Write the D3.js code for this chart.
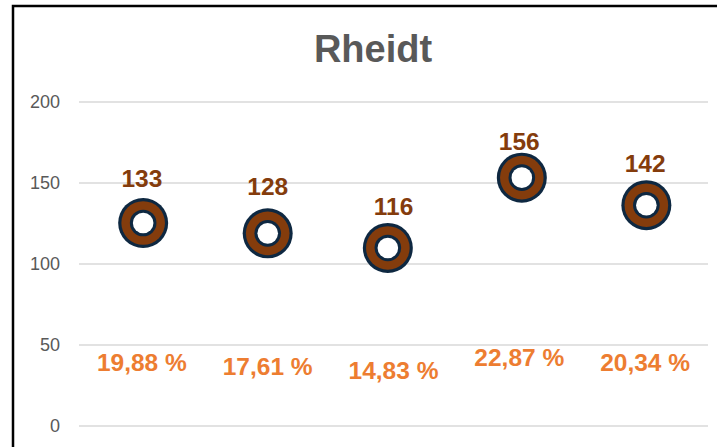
<!DOCTYPE html>
<html>
<head>
<meta charset="utf-8">
<script src="https://cdn.jsdelivr.net/npm/d3@7/dist/d3.min.js"></script>
<style>
  html, body { margin: 0; padding: 0; background: #fff; }
  svg { display: block; }
  text { font-family: "Liberation Sans", Arial, sans-serif; }
</style>
</head>
<body>
<svg id="chart" width="717" height="447"></svg>
<script>
// ---- data ----
const title = "Rheidt";
const categories = ["1", "2", "3", "4", "5"];
const counts = [133, 128, 116, 156, 142];            // labels of the ring markers
const markerValues = [125, 118.6, 109.6, 153, 136];   // vertical position of the rings
const markerX = [1.01, 2.0, 2.955, 4.02, 5.01];       // horizontal position of the rings (category units)
const percents = [19.88, 17.61, 14.83, 22.87, 20.34];
const yTicks = [0, 50, 100, 150, 200];

// ---- layout ----
const svg = d3.select("#chart");
const plot = { left: 79, right: 708, top: 101.5, bottom: 425.5 };

const y = d3.scaleLinear().domain([0, 200]).range([plot.bottom, plot.top]);
const xBand = d3.scaleBand().domain(categories).range([plot.left, plot.right]).padding(0);
const xNum = d3.scaleLinear().domain([0.5, categories.length + 0.5]).range([plot.left, plot.right]);
const cx = c => xBand(c) + xBand.bandwidth() / 2;

// outer chart frame (cropped on right & bottom)
svg.append("rect")
  .attr("x", 13).attr("y", 6)
  .attr("width", 800).attr("height", 600)
  .attr("fill", "none").attr("stroke", "#000").attr("stroke-width", 2.5);

// title
svg.append("text")
  .attr("x", 373).attr("y", 61.5)
  .attr("text-anchor", "middle")
  .attr("font-size", 38).attr("font-weight", "bold")
  .attr("fill", "#595959")
  .text(title);

// gridlines + y axis
const yAxis = d3.axisLeft(y).tickValues(yTicks).tickSize(-(plot.right - plot.left)).tickPadding(19);
const gy = svg.append("g").attr("transform", `translate(${plot.left},0)`).call(yAxis);
gy.select(".domain").remove();
gy.selectAll(".tick line").attr("stroke", "#D9D9D9").attr("stroke-width", 1.3);
gy.selectAll(".tick text")
  .attr("font-size", 18).attr("fill", "#595959")
  .attr("font-family", "Liberation Sans, Arial, sans-serif");

// ring markers
const rings = svg.append("g").selectAll("g")
  .data(markerValues.map((v, i) => ({ v, x: markerX[i] })))
  .join("g")
  .attr("transform", d => `translate(${xNum(d.x)},${y(d.v)})`);
rings.append("circle").attr("r", 25).attr("fill", "#0E2841");
rings.append("circle").attr("r", 21.8).attr("fill", "#843C0C");
rings.append("circle").attr("r", 13.3).attr("fill", "#0E2841");
rings.append("circle").attr("r", 10.3).attr("fill", "#fff");

// count labels
svg.append("g").selectAll("text")
  .data(counts.map((v, i) => ({ v, c: categories[i] })))
  .join("text")
  .attr("x", d => cx(d.c))
  .attr("y", d => y(d.v) - 23)
  .attr("text-anchor", "middle")
  .attr("font-size", 24.5).attr("font-weight", "bold")
  .attr("fill", "#843C0C")
  .text(d => d.v);

// percent labels
const fmt = d3.format(".2f");
svg.append("g").selectAll("text")
  .data(percents.map((v, i) => ({ v, c: categories[i] })))
  .join("text")
  .attr("x", d => cx(d.c))
  .attr("y", d => y(d.v) - 22)
  .attr("text-anchor", "middle")
  .attr("font-size", 24.5).attr("font-weight", "bold")
  .attr("fill", "#ED7D31")
  .text(d => fmt(d.v).replace(".", ",") + " %");
</script>
</body>
</html>
